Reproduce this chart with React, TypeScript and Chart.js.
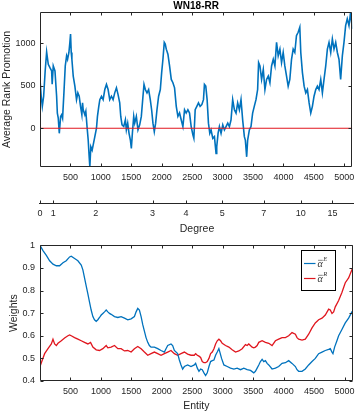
import React, { useEffect, useRef } from 'react';
import { Chart, registerables } from 'chart.js';

Chart.register(...registerables);

const FONT = '"Liberation Sans", Arial, Helvetica, sans-serif';
const SERIF = '"Liberation Serif", "DejaVu Serif", serif';
const TXT = '#262626';
const BLUE = '#0072BD';
const RED = '#E0161E';

const X_MIN = 0;
const X_MAX = 5131;
const entityTicks = [500, 1000, 1500, 2000, 2500, 3000, 3500, 4000, 4500, 5000];

// ---- Top panel: Average Rank Promotion ----
const promoTicks = [0, 500, 1000];
const promoEntity = [
  0, 20, 38, 60, 85, 109, 136, 163, 191, 200, 218, 246, 273, 285, 300, 317, 339, 355, 371, 393,
  415, 437, 453, 475, 491, 502, 513, 524, 546, 573, 600, 622, 644, 666, 688, 699, 710, 737, 753, 775,
  792, 808, 819, 835, 857, 879, 901, 928, 944, 966, 983, 1010, 1037, 1065, 1092, 1119, 1146, 1174, 1201, 1228,
  1256, 1283, 1310, 1327, 1348, 1376, 1403, 1419, 1441, 1463, 1485, 1501, 1518, 1540, 1556, 1583, 1610, 1638, 1665, 1692,
  1709, 1731, 1758, 1785, 1812, 1834, 1856, 1878, 1900, 1922, 1949, 1977, 1999, 2020, 2042, 2058, 2075, 2102, 2129, 2157,
  2184, 2211, 2239, 2266, 2293, 2320, 2348, 2375, 2402, 2430, 2457, 2484, 2512, 2528, 2550, 2577, 2604, 2631, 2659, 2686,
  2702, 2724, 2746, 2768, 2790, 2811, 2839, 2866, 2893, 2904, 2926, 2948, 2975, 3003, 3030, 3057, 3085, 3112, 3139, 3166,
  3194, 3221, 3248, 3276, 3303, 3330, 3358, 3374, 3396, 3412, 3440, 3467, 3494, 3521, 3549, 3576, 3592, 3614, 3641, 3669,
  3696, 3723, 3751, 3778, 3805, 3833, 3860, 3887, 3914, 3942, 3969, 3996, 4023, 4051, 4078, 4105, 4133, 4160, 4187, 4214,
  4242, 4269, 4285, 4312, 4340, 4367, 4394, 4422, 4449, 4476, 4503, 4531, 4558, 4585, 4613, 4640, 4667, 4695, 4722, 4749,
  4777, 4804, 4831, 4859, 4886, 4913, 4940, 4968, 4995, 5022, 5049, 5077, 5104, 5131,
];
const promoValue = [
  575, 377, 258, 377, 675, 900, 754, 714, 675, 520, 734, 675, 377, 179, 119, -60, 139, 159, 119, 417,
  734, 853, 813, 893, 1012, 1111, 893, 813, 615, 496, 337, 417, 377, 258, 159, 300, 218, 159, 200, 0,
  -139, -337, -456, -218, -258, -179, -99, 0, 139, 258, 337, 377, 337, 456, 516, 456, 337, 377, 337, 417,
  476, 397, 298, 139, 40, 20, 99, -20, 60, -60, -139, -238, -60, 139, 60, 139, -20, 40, 139, 377,
  516, 456, 417, 456, 337, 218, 60, -40, 60, 218, 377, 456, 655, 813, 1012, 992, 932, 873, 734, 575,
  536, 476, 258, 139, 180, 100, 20, 218, 179, 218, 179, 20, -79, -119, 218, 258, 298, 258, 278, 337,
  516, 496, 337, 60, -60, -20, -119, -99, -298, -218, -60, 20, -60, 40, -20, 20, 60, 20, 99, 337,
  218, 179, 298, 218, 337, 99, -99, -139, -337, -139, -20, 20, 179, 258, 337, 456, 774, 734, 575, 694,
  456, 575, 615, 536, 734, 813, 734, 1012, 853, 932, 774, 893, 734, 615, 496, 575, 813, 932, 893, 1091,
  1131, 1190, 893, 655, 496, 417, 456, 298, 179, 258, 377, 456, 496, 456, 575, 417, 575, 734, 932, 1012,
  893, 1052, 932, 1012, 893, 813, 575, 853, 1012, 1210, 1290, 1210, 1369, 1171,
];
const promoYMin = -457;
const promoYMax = 1370;
const zeroLine = [0, 0];

// ---- Degree axis ----
const degreeTickPos = [0, 218, 912, 1840, 2387, 2977, 3658, 4259, 4778];
const degreeTickLabels = ['0', '1', '2', '3', '4', '5', '7', '10', '15'];

// ---- Bottom panel: Weights ----
const weightTicks = [0.4, 0.5, 0.6, 0.7, 0.8, 0.9, 1];
const alphaEEntity = [
  0, 49, 104, 158, 213, 268, 322, 377, 431, 486, 513, 568, 622, 677, 704, 731, 759, 786, 813, 840,
  868, 895, 923, 950, 977, 1005, 1032, 1059, 1087, 1114, 1141, 1168, 1223, 1278, 1332, 1387, 1441, 1496, 1550, 1578,
  1605, 1632, 1660, 1687, 1714, 1741, 1769, 1796, 1823, 1878, 1933, 1987, 2042, 2069, 2097, 2151, 2178, 2206, 2260, 2288,
  2315, 2342, 2370, 2424, 2479, 2533, 2555, 2583, 2610, 2637, 2664, 2692, 2719, 2746, 2774, 2801, 2828, 2856, 2883, 2910,
  2937, 2953, 2981, 3019, 3074, 3128, 3183, 3237, 3292, 3346, 3401, 3456, 3510, 3537, 3565, 3592, 3619, 3647, 3674, 3701,
  3729, 3756, 3810, 3865, 3919, 3974, 4029, 4083, 4138, 4193, 4220, 4247, 4302, 4356, 4411, 4466, 4520, 4575, 4630, 4684,
  4739, 4766, 4794, 4810, 4837, 4875, 4903, 4957, 5012, 5067, 5121, 5131,
];
const alphaEValue = [
  1.0, 0.977, 0.956, 0.932, 0.917, 0.91, 0.91, 0.923, 0.932, 0.949, 0.952, 0.942, 0.932, 0.913, 0.892, 0.856, 0.82, 0.785, 0.749, 0.714,
  0.685, 0.671, 0.664, 0.671, 0.681, 0.692, 0.699, 0.706, 0.714, 0.706, 0.699, 0.695, 0.685, 0.681, 0.685, 0.678, 0.671, 0.675, 0.685, 0.706,
  0.721, 0.714, 0.685, 0.649, 0.621, 0.592, 0.571, 0.557, 0.55, 0.55, 0.543, 0.535, 0.528, 0.543, 0.557, 0.564, 0.557, 0.535, 0.521, 0.493,
  0.471, 0.453, 0.464, 0.471, 0.464, 0.471, 0.478, 0.457, 0.443, 0.453, 0.45, 0.436, 0.424, 0.436, 0.464, 0.486, 0.49, 0.493, 0.514, 0.528,
  0.543, 0.528, 0.5, 0.471, 0.464, 0.457, 0.453, 0.457, 0.45, 0.457, 0.45, 0.447, 0.436, 0.443, 0.457, 0.471, 0.486, 0.496, 0.486, 0.49,
  0.478, 0.471, 0.453, 0.457, 0.464, 0.478, 0.481, 0.49, 0.478, 0.464, 0.45, 0.443, 0.443, 0.453, 0.471, 0.486, 0.5, 0.521, 0.528, 0.535,
  0.54, 0.543, 0.528, 0.521, 0.55, 0.578, 0.6, 0.628, 0.657, 0.678, 0.706, 0.709,
];
const alphaREntity = [
  0, 38, 76, 131, 186, 213, 240, 268, 295, 350, 404, 459, 486, 513, 568, 622, 677, 731, 786, 830,
  868, 923, 977, 1032, 1087, 1114, 1168, 1223, 1278, 1332, 1387, 1441, 1496, 1550, 1605, 1660, 1714, 1769, 1823, 1878,
  1933, 1987, 2042, 2097, 2151, 2206, 2260, 2315, 2370, 2424, 2479, 2533, 2555, 2583, 2610, 2637, 2664, 2692, 2719, 2746,
  2774, 2801, 2828, 2856, 2883, 2910, 2937, 2965, 2992, 3046, 3101, 3155, 3210, 3265, 3319, 3374, 3401, 3428, 3483, 3510,
  3537, 3565, 3592, 3647, 3701, 3756, 3810, 3865, 3919, 3974, 4029, 4083, 4138, 4193, 4220, 4247, 4302, 4356, 4411, 4466,
  4520, 4575, 4630, 4684, 4739, 4766, 4794, 4821, 4848, 4903, 4957, 5012, 5067, 5121, 5131,
];
const alphaRValue = [
  0.464, 0.493, 0.521, 0.543, 0.564, 0.585, 0.564, 0.557, 0.567, 0.578, 0.59, 0.6, 0.604, 0.6, 0.592, 0.585, 0.578, 0.571, 0.564, 0.571,
  0.55, 0.538, 0.535, 0.543, 0.557, 0.547, 0.55, 0.557, 0.543, 0.543, 0.533, 0.535, 0.528, 0.543, 0.553, 0.543, 0.528, 0.514, 0.521, 0.528,
  0.521, 0.514, 0.521, 0.528, 0.535, 0.521, 0.514, 0.521, 0.528, 0.519, 0.514, 0.514, 0.521, 0.514, 0.51, 0.504, 0.486, 0.481, 0.481, 0.486,
  0.5, 0.521, 0.528, 0.543, 0.564, 0.578, 0.585, 0.578, 0.567, 0.557, 0.55, 0.538, 0.528, 0.533, 0.543, 0.561, 0.557, 0.564, 0.55, 0.547,
  0.55, 0.557, 0.571, 0.578, 0.571, 0.567, 0.557, 0.578, 0.585, 0.592, 0.592, 0.6, 0.614, 0.607, 0.592, 0.585, 0.581, 0.585, 0.607, 0.635,
  0.657, 0.671, 0.678, 0.692, 0.718, 0.714, 0.699, 0.706, 0.728, 0.756, 0.792, 0.835, 0.856, 0.892, 0.899,
];

const toPoints = (xs: number[], ys: number[]) => xs.map((x, i) => ({ x, y: ys[i] }));
const plainLabel = (v: any) => String(v);

// Draws the MATLAB-like box with inward ticks on all four sides
const framePlugin = {
  id: 'frame',
  afterDatasetsDraw(chart: any, _args: any, opts: any) {
    if (!opts || !opts.enabled) return;
    const { ctx, chartArea: a, scales } = chart;
    ctx.save();
    ctx.strokeStyle = TXT;
    ctx.lineWidth = 1;
    const L = Math.round(a.left) + 0.5;
    const R = Math.round(a.right) - 0.5;
    const T = Math.round(a.top) + 0.5;
    const B = Math.round(a.bottom) - 0.5;
    ctx.beginPath();
    ctx.rect(L, T, R - L, B - T);
    ctx.stroke();
    const tl = 3;
    ctx.beginPath();
    scales.x.ticks.forEach((t: any) => {
      const px = Math.round(scales.x.getPixelForValue(t.value)) + 0.5;
      ctx.moveTo(px, B); ctx.lineTo(px, B - tl);
      ctx.moveTo(px, T); ctx.lineTo(px, T + tl);
    });
    scales.y.ticks.forEach((t: any) => {
      const py = Math.round(scales.y.getPixelForValue(t.value)) + 0.5;
      ctx.moveTo(L, py); ctx.lineTo(L + tl, py);
      ctx.moveTo(R, py); ctx.lineTo(R - tl, py);
    });
    ctx.stroke();
    ctx.restore();
  },
};

// Degree axis: a single line with upward ticks
const degreeAxisPlugin = {
  id: 'degreeAxis',
  afterDraw(chart: any, _args: any, opts: any) {
    if (!opts || !opts.enabled) return;
    const { ctx, chartArea: a, scales } = chart;
    ctx.save();
    ctx.strokeStyle = TXT;
    ctx.lineWidth = 1;
    const B = Math.round(a.bottom) - 0.5;
    ctx.beginPath();
    ctx.moveTo(a.left - 1, B);
    ctx.lineTo(a.right, B);
    scales.x.ticks.forEach((t: any) => {
      const px = Math.round(scales.x.getPixelForValue(t.value)) + 0.5;
      ctx.moveTo(px, B); ctx.lineTo(px, B - 3);
    });
    ctx.stroke();
    ctx.restore();
  },
};

// Legend box with overlined alpha + superscript
const legendPlugin = {
  id: 'weightLegend',
  afterDraw(chart: any, _args: any, opts: any) {
    if (!opts || !opts.enabled) return;
    const { ctx, chartArea: a } = chart;
    const ds = chart.data.datasets;
    ctx.save();
    const bx = Math.round(a.right) - 51.5;
    const by = Math.round(a.top) + 5.5;
    const bw = 34;
    const bh = 40;
    ctx.fillStyle = '#ffffff';
    ctx.fillRect(bx, by, bw, bh);
    ctx.strokeStyle = '#000000';
    ctx.lineWidth = 1;
    ctx.strokeRect(bx, by, bw, bh);
    ds.forEach((d: any, i: number) => {
      const y = by + 13 + i * 15;
      ctx.strokeStyle = d.borderColor;
      ctx.lineWidth = 1.2;
      ctx.beginPath();
      ctx.moveTo(bx + 2.5, y);
      ctx.lineTo(bx + 14, y);
      ctx.stroke();
      const label: string = d.label; // e.g. "α|E"
      const [base, sup] = label.split('|');
      ctx.fillStyle = '#333333';
      ctx.textBaseline = 'alphabetic';
      ctx.font = `italic 10px ${SERIF}`;
      const tx = bx + 16;
      ctx.fillText(base, tx, y + 3);
      const w = ctx.measureText(base).width;
      ctx.strokeStyle = '#333333';
      ctx.lineWidth = 0.6;
      ctx.beginPath();
      ctx.moveTo(tx + 0.5, y - 3.2);
      ctx.lineTo(tx + w, y - 3.2);
      ctx.stroke();
      ctx.font = `italic 6.5px ${SERIF}`;
      ctx.fillText(sup, tx + w + 0.5, y - 2.5);
    });
    ctx.restore();
  },
};

const baseFont = { family: FONT, size: 9 };

function makeTop(canvas: HTMLCanvasElement) {
  return new Chart(canvas, {
    type: 'line',
    data: {
      datasets: [
        {
          label: 'zero',
          data: toPoints([X_MIN, X_MAX], zeroLine),
          borderColor: RED,
          borderWidth: 1.1,
          pointRadius: 0,
        },
        {
          label: 'promotion',
          data: toPoints(promoEntity, promoValue),
          borderColor: BLUE,
          borderWidth: 1.6,
          pointRadius: 0,
          tension: 0,
        },
      ],
    },
    options: {
      responsive: false,
      animation: false,
      events: [],
      layout: { padding: { top: 0, right: 6, left: 0, bottom: 0 } },
      plugins: {
        legend: { display: false },
        tooltip: { enabled: false },
        title: {
          display: true,
          text: 'WN18-RR',
          fullSize: false,
          color: '#000000',
          font: { family: FONT, size: 10, weight: 'bold', lineHeight: 1 },
          padding: { top: 1, bottom: 1 },
        },
        frame: { enabled: true },
      } as any,
      scales: {
        x: {
          type: 'linear',
          min: X_MIN,
          max: X_MAX,
          afterBuildTicks: (s: any) => { s.ticks = entityTicks.map((v) => ({ value: v })); },
          afterFit: (s: any) => { s.height = 23; },
          grid: { display: false, drawTicks: false },
          border: { display: false },
          ticks: { color: TXT, font: baseFont, padding: 5.5, maxRotation: 0, autoSkip: false, callback: plainLabel },
        },
        y: {
          type: 'linear',
          min: promoYMin,
          max: promoYMax,
          afterBuildTicks: (s: any) => { s.ticks = promoTicks.map((v) => ({ value: v })); },
          afterFit: (s: any) => { s.width = 40; },
          grid: { display: false, drawTicks: false },
          border: { display: false },
          ticks: { color: TXT, font: baseFont, padding: 4.5, callback: plainLabel },
          title: {
            display: true,
            text: 'Average Rank Promotion',
            color: TXT,
            font: { family: FONT, size: 10.5, lineHeight: 1 },
            padding: { top: 1.5, bottom: 0 },
          },
        },
      },
    },
    plugins: [framePlugin],
  } as any);
}

function makeDegree(canvas: HTMLCanvasElement) {
  return new Chart(canvas, {
    type: 'line',
    data: { datasets: [] },
    options: {
      responsive: false,
      animation: false,
      events: [],
      layout: { padding: { top: 5, right: 6, left: 40, bottom: 0 } },
      plugins: {
        legend: { display: false },
        tooltip: { enabled: false },
        degreeAxis: { enabled: true },
      } as any,
      scales: {
        x: {
          type: 'linear',
          min: X_MIN,
          max: X_MAX,
          afterBuildTicks: (s: any) => { s.ticks = degreeTickPos.map((v) => ({ value: v })); },
          afterFit: (s: any) => { s.height = 31.5; },
          grid: { display: false, drawTicks: false },
          border: { display: false },
          ticks: {
            color: TXT,
            font: baseFont,
            padding: 5,
            maxRotation: 0,
            autoSkip: false,
            callback: (_v: any, i: number) => degreeTickLabels[i],
          },
          title: {
            display: true,
            text: 'Degree',
            color: TXT,
            font: { family: FONT, size: 10.5, lineHeight: 1 },
            padding: { top: 0, bottom: 0.75 },
          },
        },
        y: { display: false, min: 0, max: 1 },
      },
    },
    plugins: [degreeAxisPlugin],
  } as any);
}

function makeBottom(canvas: HTMLCanvasElement) {
  return new Chart(canvas, {
    type: 'line',
    data: {
      datasets: [
        {
          label: 'α|E',
          data: toPoints(alphaEEntity, alphaEValue),
          borderColor: BLUE,
          borderWidth: 1.3,
          pointRadius: 0,
          tension: 0,
        },
        {
          label: 'α|R',
          data: toPoints(alphaREntity, alphaRValue),
          borderColor: RED,
          borderWidth: 1.3,
          pointRadius: 0,
          tension: 0,
        },
      ],
    },
    options: {
      responsive: false,
      animation: false,
      events: [],
      layout: { padding: { top: 6, right: 6, left: 0, bottom: 0 } },
      plugins: {
        legend: { display: false },
        tooltip: { enabled: false },
        frame: { enabled: true },
        weightLegend: { enabled: true },
      } as any,
      scales: {
        x: {
          type: 'linear',
          min: X_MIN,
          max: X_MAX,
          afterBuildTicks: (s: any) => { s.ticks = entityTicks.map((v) => ({ value: v })); },
          afterFit: (s: any) => { s.height = 37; },
          grid: { display: false, drawTicks: false },
          border: { display: false },
          ticks: { color: TXT, font: baseFont, padding: 5.3, maxRotation: 0, autoSkip: false, callback: plainLabel },
          title: {
            display: true,
            text: 'Entity',
            color: TXT,
            font: { family: FONT, size: 10.5, lineHeight: 1 },
            padding: { top: 0, bottom: 6.75 },
          },
        },
        y: {
          type: 'linear',
          min: 0.4,
          max: 1,
          afterBuildTicks: (s: any) => { s.ticks = weightTicks.map((v) => ({ value: v })); },
          afterFit: (s: any) => { s.width = 40; },
          grid: { display: false, drawTicks: false },
          border: { display: false },
          ticks: { color: TXT, font: baseFont, padding: 5, callback: plainLabel },
          title: {
            display: true,
            text: 'Weights',
            color: TXT,
            font: { family: FONT, size: 10.5, lineHeight: 1 },
            padding: { top: 9, bottom: 0 },
          },
        },
      },
    },
    plugins: [framePlugin, legendPlugin],
  } as any);
}

function ChartCanvas({ top, height, make }: { top: number; height: number; make: (c: HTMLCanvasElement) => Chart }) {
  const ref = useRef<HTMLCanvasElement | null>(null);
  useEffect(() => {
    if (!ref.current) return;
    const chart = make(ref.current);
    return () => chart.destroy();
  }, [make]);
  return (
    <canvas
      ref={ref}
      width={360}
      height={height}
      style={{ position: 'absolute', left: 0, top, width: 360, height, display: 'block' }}
    />
  );
}

export default function App() {
  return (
    <div style={{ position: 'fixed', left: 0, top: 0, width: 360, height: 418, background: '#ffffff', overflow: 'hidden' }}>
      <ChartCanvas top={0} height={190} make={makeTop} />
      <ChartCanvas top={190} height={45} make={makeDegree} />
      <ChartCanvas top={235} height={183} make={makeBottom} />
    </div>
  );
}
